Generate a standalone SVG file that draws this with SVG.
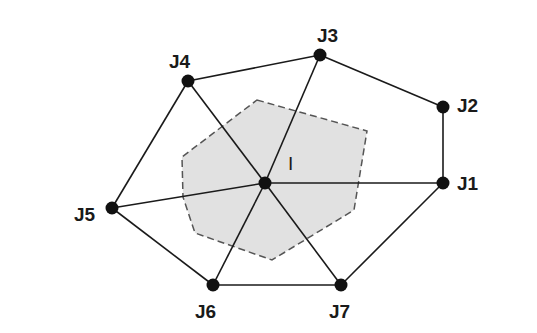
<svg xmlns="http://www.w3.org/2000/svg" width="537" height="333" viewBox="0 0 537 333">
<style>
.e{stroke:#1a1a1a;stroke-width:1.6;fill:none}
.n{fill:#111}
.t{font-family:"Liberation Sans",Arial,sans-serif;font-weight:bold;font-size:19px;fill:#1a1a1a}
</style>
<rect width="537" height="333" fill="#fff"/>
<polygon id="cell" points="257,100 367,131 354,210 272,260 195,233 183,197 182,157" fill="#e1e1e1" stroke="#555" stroke-width="1.5" stroke-dasharray="7,4"/>
<g id="connectors" class="e">
<line x1="188" y1="81" x2="320" y2="55"/>
<line x1="320" y1="55" x2="443" y2="107"/>
<line x1="443" y1="107" x2="443" y2="183"/>
<line x1="443" y1="183" x2="341" y2="285"/>
<line x1="341" y1="285" x2="213" y2="285"/>
<line x1="213" y1="285" x2="112" y2="208"/>
<line x1="112" y1="208" x2="188" y2="81"/>
<line x1="265" y1="183" x2="443" y2="183"/>
<line x1="265" y1="183" x2="320" y2="55"/>
<line x1="265" y1="183" x2="188" y2="81"/>
<line x1="265" y1="183" x2="112" y2="208"/>
<line x1="265" y1="183" x2="213" y2="285"/>
<line x1="265" y1="183" x2="341" y2="285"/>
</g>
<g id="I"><circle class="n" cx="265" cy="183" r="6.5"/><text class="t" x="288" y="170" style="font-weight:normal">I</text></g>
<g id="J1"><circle class="n" cx="443" cy="183" r="6.5"/><text class="t" x="457" y="190">J1</text></g>
<g id="J2"><circle class="n" cx="443" cy="107" r="6.5"/><text class="t" x="457" y="112">J2</text></g>
<g id="J3"><circle class="n" cx="320" cy="55" r="6.5"/><text class="t" x="317" y="42">J3</text></g>
<g id="J4"><circle class="n" cx="188" cy="81" r="6.5"/><text class="t" x="169" y="68">J4</text></g>
<g id="J5"><circle class="n" cx="112" cy="208" r="6.5"/><text class="t" x="74" y="221">J5</text></g>
<g id="J6"><circle class="n" cx="213" cy="285" r="6.5"/><text class="t" x="195" y="318">J6</text></g>
<g id="J7"><circle class="n" cx="341" cy="285" r="6.5"/><text class="t" x="329" y="318">J7</text></g>
</svg>
